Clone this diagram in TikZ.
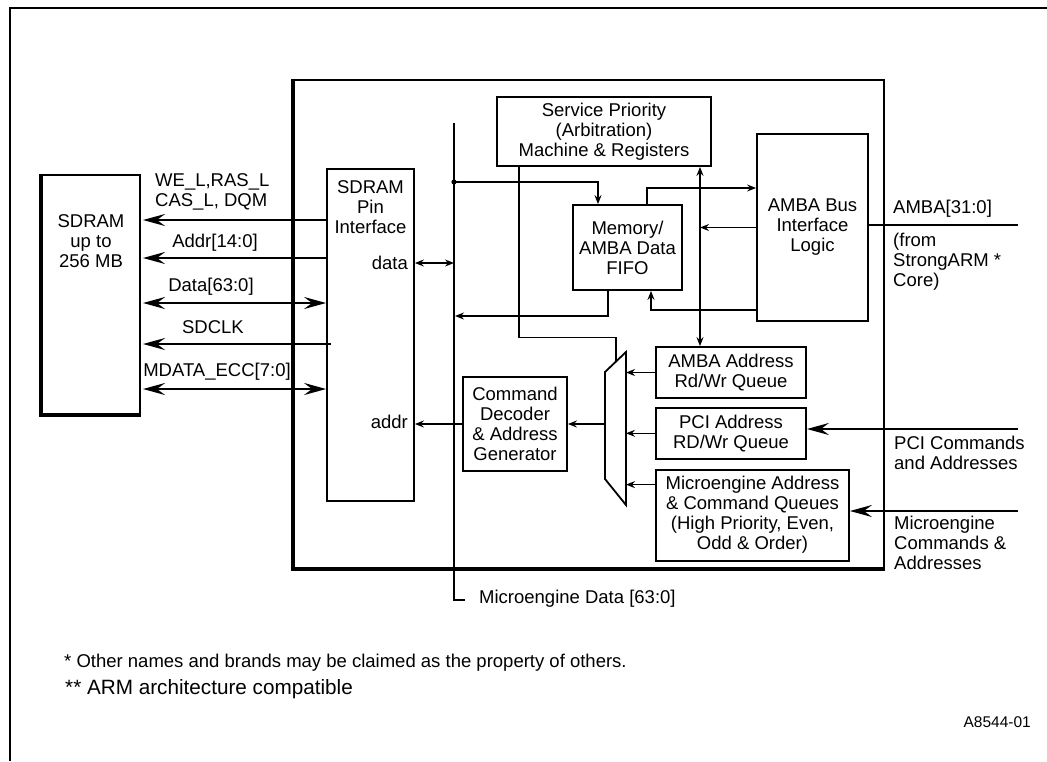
\documentclass[tikz,border=0pt]{standalone}
\usepackage{fontspec}
\setmainfont{Liberation Sans}
\usetikzlibrary{
  calc,
  arrows.meta, % for Stealth tips
  positioning}
\tikzset{bigtip/.tip={Stealth[length=22pt,width=12pt,inset=8pt]}}
\tikzstyle{block} = [draw, line width=1.8pt, inner sep=0pt, align=center]
\tikzstyle{queue} = [block, minimum width=150pt, minimum height=51pt]
\tikzstyle{terminal} = [draw=none, inner sep=0pt, align=left]
\tikzstyle{wire} = [line width=1.4pt]
\tikzstyle{sigline} = [line width=2.6pt]
\tikzstyle{thickedge} = [line width=4.5pt]

\begin{document}
\begin{tikzpicture}[x=1pt, y=-1pt, node distance=8pt,
  font=\fontsize{18.5pt}{20pt}\selectfont,
  >={Stealth[length=9pt,width=7pt,inset=3pt]}]
\useasboundingbox (0,0) rectangle (1047,761);

% page frame
\draw[line width=2pt] (10,761) -- (10,8) -- (1047,8);

% chip outline
\node[block, line width=2pt, minimum width=590pt, minimum height=488pt] (chip) at (589,324) {};
\draw[thickedge] (chip.north west) -- (chip.south west) -- (chip.south east);

% SDRAM and pin interface
\node[block, minimum width=98pt, minimum height=239pt] (sdram) at (91,294.5) {};
\draw[thickedge] (sdram.north west) -- (sdram.south west) -- (sdram.south east);
\node[terminal, align=center] (sdramtxt) at (91,241) {SDRAM\\up to\\256 MB};
\node[block, minimum width=87pt, minimum height=332pt] (pin) at (370.5,335) {};
\node[terminal, align=center] (pintxt) at (370.5,207) {SDRAM\\Pin\\Interface};
\node[terminal, anchor=east] (data) at (408,263) {data};
\node[terminal, anchor=east] (addr) at (408,422) {addr};

\coordinate (we) at (143,220);
\coordinate (ad) at (143,258);
\coordinate (dq) at (143,303);
\coordinate (ck) at (143,344);
\coordinate (ecc) at (143,389);
\draw[sigline, -{bigtip}] (we -| pin.west) -- (we);
\draw[sigline, -{bigtip}] (ad -| pin.west) -- (ad);
\draw[sigline, {bigtip}-{bigtip}] (dq) -- (dq -| pin.west);
\draw[sigline, -{bigtip}] ($(ck -| pin.west)+(5,0)$) -- (ck);
\draw[sigline, {bigtip}-{bigtip}] (ecc) -- (ecc -| pin.west);
\node[terminal, anchor=west] (welbl) at (155,192) {WE\_L,RAS\_L\\CAS\_L, DQM};
\node[terminal] (adlbl) at (215,243) {Addr[14:0]};
\node[terminal] (dqlbl) at (211,287) {Data[63:0]};
\node[terminal] (cklbl) at (213,327) {SDCLK};
\node[terminal] (ecclbl) at (217,372) {MDATA\_ECC[7:0]};

% microengine data bus
\coordinate (bustop) at (454,123);
\coordinate (busend) at (465,600);
\coordinate (tap) at (454,182);
\coordinate (busret) at (455,316);
\draw[wire] (bustop) |- (busend);
\fill (tap) circle (2.6pt);
\node[terminal, anchor=west] (buslbl) at (479,599) {Microengine Data [63:0]};

% arbitration, FIFO, AMBA
\node[block, minimum width=214pt, minimum height=69pt] (sp) at (604,131.5)
  {Service Priority\\(Arbitration)\\Machine \& Registers};
\node[block, minimum width=109pt, minimum height=85pt] (fifo) at (627.5,247.5)
  {Memory/\\AMBA Data\\FIFO};
\node[block, minimum width=111pt, minimum height=187pt] (amba) at (812.5,227.5)
  {AMBA Bus\\Interface\\Logic};

% queues and mux
\node[queue] (aq) at (731,372.5) {AMBA Address\\Rd/Wr Queue};
\node[queue, below=8pt of aq] (pq) {PCI Address\\RD/Wr Queue};
\node[block, minimum width=193pt, minimum height=91pt, below=9pt of pq.south west, anchor=north west] (mq)
  {Microengine Address\\\& Command Queues\\(High Priority, Even,\\Odd \& Order)};
\node[block, minimum width=104pt, minimum height=94pt] (cd) at (515,424)
  {Command\\Decoder\\\& Address\\Generator};
\draw[line width=1.8pt] (605,372) coordinate (mnw) -- (626,352) coordinate (mne)
  -- (626,505) coordinate (mse) -- (605,479) coordinate (msw) -- cycle;
\coordinate (mtop) at ($(mnw)!0.52!(mne)$);

% internal connectors
\draw[wire, ->] (tap) -| ($(fifo.north)+(-29.5,0)$);
\draw[wire, ->] ($(fifo.north)+(19.5,0)$) |- ($(amba.west)+(0,-39.5)$);
\coordinate (arb) at ($(sp.south)+(96,0)$);
\draw[wire, <->] (arb) -- (arb |- aq.north);
\draw[wire, ->] (amba.west) -- (amba.west -| arb);
\draw[wire, ->] ($(fifo.south)+(-19.5,0)$) |- (busret);
\coordinate (aback) at (651,310);
\draw[wire, ->] (aback -| amba.west) -- (aback) -- (aback |- fifo.south);
\draw[wire] ($(sp.south)+(-85,0)$) |- ($(mtop)+(0,-24)$) -- (mtop);
\draw[wire, ->] (aq.west) -- (aq.west -| mne);
\draw[wire, ->] (pq.west) -- (pq.west -| mne);
\coordinate (mqin) at ($(mq.west)+(0,-30.5)$);
\draw[wire, ->] (mqin) -- (mqin -| mne);
\draw[wire, ->] (cd.east -| mnw) -- (cd.east);
\draw[wire, ->] (cd.west) -- (cd.west -| pin.east);
\draw[wire, <->] (data.east -| pin.east) -- (data.east -| bustop);

% external side
\coordinate (ambaext) at (1018,225);
\coordinate (pciext) at (1018,429);
\coordinate (meext) at (1018,511);
\draw[sigline] (ambaext -| amba.east) -- (ambaext);
\draw[sigline, -{bigtip}] (pciext) -- (pciext -| pq.east);
\draw[sigline, -{bigtip}] (meext) -- (meext -| mq.east);
\node[terminal, anchor=west] (ambalbl) at (893,209) {AMBA[31:0]};
\node[terminal, anchor=west] (armlbl) at (893,262) {(from\\StrongARM *\\Core)};
\node[terminal, anchor=west] (pcilbl) at (894,453) {PCI Commands\\and Addresses};
\node[terminal, anchor=west] (melbl) at (894,543) {Microengine\\Commands \&\\Addresses};

% notes
\node[terminal, anchor=west] (note1) at (64,663)
  {* Other names and brands may be claimed as the property of others.};
\node[terminal, anchor=west, font=\fontsize{20.7pt}{22pt}\selectfont] (note2) at (65,689)
  {** ARM architecture compatible};
\node[terminal, anchor=east, font=\fontsize{15.5pt}{17pt}\selectfont] (figid) at (1031,722) {A8544-01};

\end{tikzpicture}
\end{document}
